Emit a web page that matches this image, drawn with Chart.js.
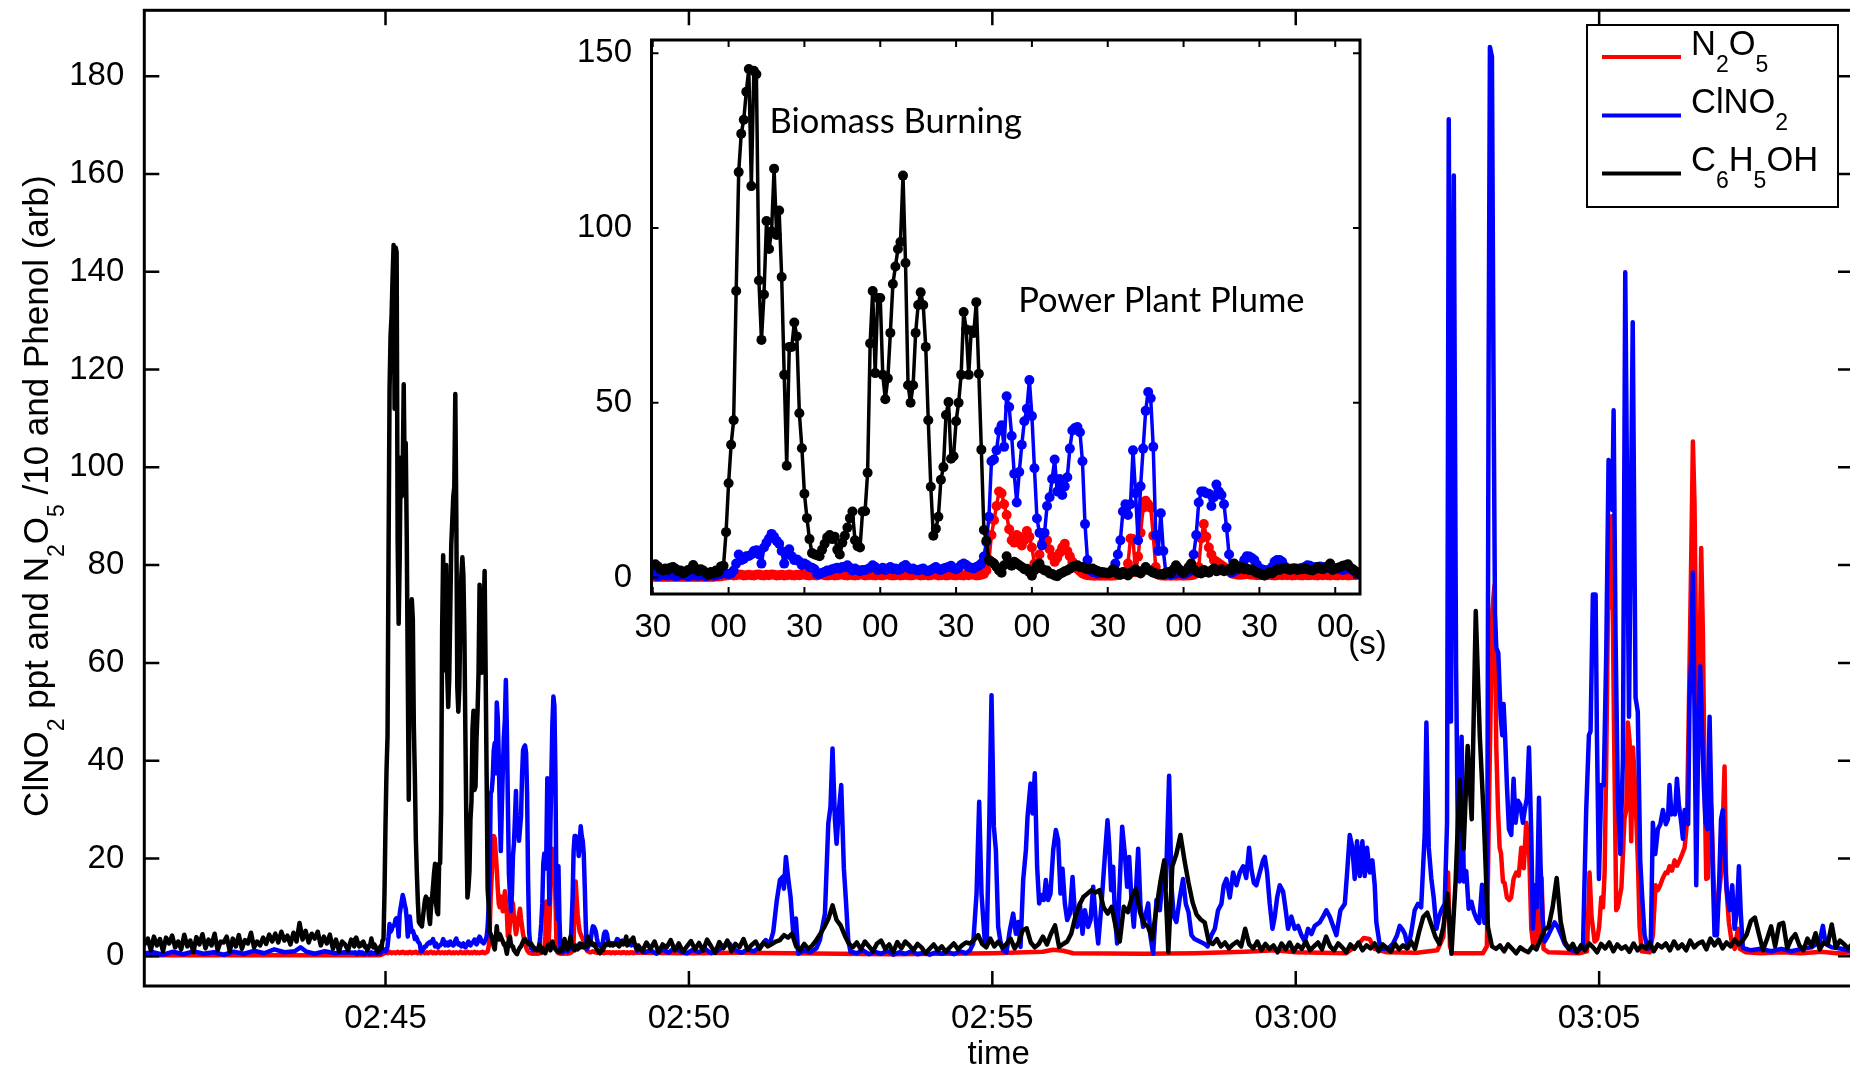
<!DOCTYPE html>
<html><head><meta charset="utf-8">
<script src="https://cdn.jsdelivr.net/npm/chart.js@4.4.1/dist/chart.umd.min.js"></script>
<style>
html,body{margin:0;padding:0;background:#fff;overflow:hidden;width:1850px;height:1070px;}
#wrap{position:relative;width:1850px;height:1070px;overflow:hidden;background:#fff;}
#main{position:absolute;left:0;top:0;}
#inset{position:absolute;left:560px;top:20px;}
</style></head><body>
<div id="wrap"><canvas id="main" width="1854" height="1070"></canvas><canvas id="inset" width="840" height="660"></canvas></div>
<script>
// ---------------- DATA (time = seconds after 02:40:00) ----------------
const mainTimeTicks = [300, 600, 900, 1200, 1500];          // 02:45 ... 03:05
const mainValueTicks = [0, 20, 40, 60, 80, 100, 120, 140, 160, 180];
const insetTimeTicks = [270, 300, 330, 360, 390, 420, 450, 480, 510, 540];
const insetValueTicks = [0, 50, 100, 150];

// Phenol (C6H5OH), 02:41:02 - 02:44:29, every 3 s
const BLACK_A_START = 62, BLACK_A_STEP = 3;
const blackA = [
 2.5,3.6,1.2,4.0,2.2,3.5,1.0,3.8,2.6,4.2,1.8,3.0,1.4,4.4,2.0,3.2,0.8,3.9,2.4,4.5,
 1.6,3.4,2.2,4.6,1.2,3.0,2.8,4.0,1.0,3.6,2.0,4.3,1.5,3.3,2.6,4.8,1.8,3.0,2.2,3.8,
 2.5,4.4,3.0,4.6,2.8,5.0,3.2,4.2,2.4,4.8,3.0,6.8,3.4,5.2,2.8,4.6,3.6,5.0,2.2,4.0,
 2.6,4.4,1.5,3.4,1.0,3.0,2.4,1.2,3.4,2.0
];

// 1 s data 02:44:30 - 02:49:09 (shown in the inset)
const INSET_START = 270;
const blackInset = [
 3.5,3.8,3.2,2.4,2.0,2.6,2.2,2.8,3.0,2.5,
 1.8,2.0,1.2,1.6,2.2,2.4,3.6,2.6,1.8,2.4,
 2.0,1.4,0.8,1.6,1.2,2.0,1.6,3.2,3.4,13.0,
 27.0,38.0,45.0,82.0,116.0,127.0,131.0,139.0,145.5,112.0,
 145.0,144.0,85.0,68.0,81.0,102.0,94.0,99.0,117.0,98.0,
 105.0,86.0,58.0,32.0,66.0,66.0,73.0,69.0,47.0,37.0,
 24.0,17.0,11.0,7.0,6.6,6.4,6.1,8.0,9.7,11.5,
 12.2,11.0,11.7,8.0,6.6,10.0,12.0,14.3,17.0,18.9,
 10.7,9.0,8.6,18.9,19.0,30.0,67.0,82.0,58.5,80.0,
 80.0,58.0,51.0,57.0,70.0,84.0,89.0,94.0,96.0,115.0,
 90.0,55.0,50.0,55.0,70.0,78.0,81.6,78.0,66.0,45.0,
 26.0,12.0,14.0,17.4,28.0,31.6,46.5,50.2,34.0,34.7,
 44.7,50.0,58.0,76.0,71.0,58.0,70.7,70.0,78.8,58.3,
 36.6,13.6,10.5,5.0,4.5,4.0,3.0,2.0,1.4,3.5,
 6.1,4.2,3.4,4.5,4.0,3.5,3.0,2.4,2.5,1.5,
 0.5,2.0,3.5,4.0,2.5,2.0,2.0,1.2,1.0,0.6,
 0.4,1.0,1.4,1.8,2.0,2.5,3.0,3.4,3.5,3.0,
 3.0,2.6,2.4,2.5,2.6,2.2,1.9,1.6,1.4,1.4,
 1.2,1.4,2.4,2.0,1.0,0.8,1.6,1.2,0.6,1.4,
 1.8,2.4,1.6,1.2,2.0,3.0,2.2,1.8,1.4,1.2,
 1.0,1.0,0.8,1.4,1.6,1.2,2.4,3.5,2.6,1.8,
 1.4,2.0,3.0,4.0,2.4,1.8,1.4,1.2,2.2,1.6,
 1.4,2.0,2.6,1.8,2.0,2.4,1.8,2.2,2.4,2.0,
 4.0,2.8,2.6,3.0,2.4,2.6,2.2,2.4,1.8,1.4,
 1.2,0.8,0.6,1.0,1.6,1.2,1.8,2.4,2.2,2.6,
 2.8,2.4,2.2,2.6,2.6,2.2,2.4,2.4,2.6,2.4,
 2.2,2.0,2.4,3.0,2.6,2.4,2.8,3.2,4.0,2.2,
 2.6,2.8,3.0,3.4,3.5,3.8,2.8,2.4,1.8,1.4
];
const blueInset = [
 0.8,0.6,0.4,0.6,0.9,0.7,0.5,0.8,0.6,0.4,
 0.5,0.7,0.9,0.6,0.4,0.5,0.8,0.6,0.5,0.7,
 0.6,0.4,0.6,0.8,0.5,0.6,0.9,1.0,1.4,1.2,
 1.0,1.2,2.0,4.0,6.6,5.0,5.3,6.1,6.2,6.6,
 7.6,7.8,6.6,4.0,8.6,10.0,11.2,12.5,11.7,10.5,
 9.7,7.6,4.0,6.6,8.1,6.1,5.0,5.2,4.6,3.5,
 4.0,3.6,3.0,2.8,2.4,1.0,1.0,1.4,1.6,2.0,
 2.0,2.4,2.6,2.8,2.6,3.0,3.0,3.5,2.8,2.0,
 2.6,2.2,1.8,2.2,2.2,2.4,2.8,3.5,3.0,2.2,
 2.4,2.8,2.2,2.6,3.0,2.4,2.6,2.2,2.4,3.2,
 3.6,2.8,2.4,2.6,2.2,2.0,2.4,2.6,2.0,1.8,
 2.2,2.6,3.0,2.4,2.2,2.6,2.8,3.0,3.4,2.6,
 2.4,2.8,3.6,4.0,3.6,3.0,2.8,2.6,3.0,3.4,
 4.0,6.0,10.2,17.4,33.3,33.8,36.4,42.0,43.6,37.4,
 51.9,48.8,40.5,29.7,21.5,30.2,38.0,44.7,48.3,56.5,
 46.2,31.3,16.9,12.8,9.2,12.8,20.5,23.0,28.2,33.8,
 24.6,28.2,23.6,26.1,28.7,36.9,42.1,42.8,43.1,41.6,
 33.3,15.3,5.0,2.5,1.6,1.5,1.2,1.4,1.6,1.4,
 1.4,1.6,2.0,4.0,6.6,10.7,18.9,21.0,17.9,21.0,
 36.4,24.1,10.7,26.1,36.9,47.7,53.1,51.3,37.4,12.2,
 7.6,18.4,7.6,1.4,1.0,0.8,1.0,1.2,1.4,1.2,
 1.0,1.2,1.6,2.0,6.6,12.2,21.5,24.6,24.6,24.1,
 24.0,20.5,23.0,26.6,24.6,23.6,21.0,14.3,6.6,1.4,
 1.8,2.2,2.4,3.5,5.0,6.1,6.0,5.6,5.0,3.7,
 2.6,2.4,2.2,2.0,2.2,3.0,4.5,5.0,5.0,4.5,
 3.2,2.6,2.5,2.4,2.6,2.5,2.6,2.8,3.0,3.5,
 3.4,3.0,2.8,3.0,3.2,3.0,2.6,2.8,3.0,2.8,
 2.6,2.5,2.4,2.2,2.4,2.6,2.4,2.0,1.5,1.0
];
const redInset = [
 0.2,0.2,0.2,0.2,0.2,0.2,0.2,0.2,0.2,0.2,
 0.2,0.2,0.2,0.2,0.2,0.2,0.2,0.2,0.2,0.2,
 0.2,0.2,0.2,0.2,0.2,0.3,0.3,0.4,0.5,0.6,
 0.7,0.8,0.6,0.7,0.9,0.8,0.6,0.7,0.8,0.7,
 0.6,0.8,0.9,0.7,0.6,0.8,0.7,0.9,0.8,0.6,
 0.7,0.8,0.6,0.7,0.9,0.7,0.6,0.8,0.7,0.8,
 0.9,0.7,0.6,0.8,0.7,0.6,0.8,0.9,0.7,0.6,
 0.7,0.8,0.6,0.7,0.8,0.9,0.7,0.6,0.8,0.7,
 0.6,0.7,0.9,0.8,0.6,0.7,0.8,0.7,0.6,0.8,
 0.7,0.6,0.8,0.9,0.7,0.6,0.7,0.8,0.6,0.7,
 0.8,0.7,0.6,0.7,0.9,0.8,0.6,0.7,0.8,0.6,
 0.7,0.9,0.8,0.6,0.7,0.8,0.6,0.7,0.9,0.7,
 0.6,0.8,0.7,0.6,0.8,0.7,0.9,0.8,0.6,0.7,
 0.8,1.0,2.0,5.0,12.2,16.4,20.5,24.6,24.1,21.0,
 17.9,13.8,10.7,10.0,12.2,11.7,9.2,10.7,13.3,11.7,
 8.6,4.0,4.0,6.6,9.7,11.2,10.7,8.1,6.1,4.5,
 5.6,7.1,8.6,9.7,7.6,6.1,4.5,3.5,2.5,1.8,
 1.2,0.9,0.7,0.6,0.6,0.5,0.6,0.5,0.6,0.5,
 0.6,0.5,0.6,0.6,0.7,0.8,1.0,1.5,4.0,11.2,
 11.0,1.5,6.0,12.8,20.0,22.0,21.0,20.0,12.0,3.0,
 0.8,0.6,0.6,0.5,0.6,0.5,0.6,0.5,0.6,0.6,
 0.5,0.6,0.6,0.7,0.8,1.2,3.0,11.2,15.3,11.7,
 8.6,6.6,5.0,4.5,4.0,3.5,3.0,2.4,1.8,1.2,
 1.0,0.9,0.8,0.8,0.9,1.0,0.9,0.8,0.8,0.7,
 0.7,0.8,0.6,0.7,0.8,0.7,0.6,0.7,0.8,0.7,
 0.8,0.7,0.8,0.6,0.7,0.8,0.7,0.6,0.8,0.7,
 0.7,0.8,0.7,0.6,0.8,0.7,0.8,0.7,0.6,0.8,
 0.7,0.6,0.8,0.7,0.8,0.6,0.7,0.8,0.7,0.8
];

// Phenol 02:49:10 - 03:09:14, every 4 s (one row = one minute)
const BLACK_C_START = 550, BLACK_C_STEP = 4;
const blackC = [
 2.2,1.0,2.8,1.5,3.0,0.8,2.4,1.8,3.3,1.2,2.6,0.9,2.0,3.1,1.4,
 2.7,1.1,3.4,2.0,0.7,2.9,1.6,3.2,1.0,2.5,1.8,3.5,1.3,2.3,3.0,
 1.5,2.8,2.0,2.5,3.0,3.3,4.3,3.8,4.6,2.0,1.2,2.5,1.5,2.2,3.3,
 4.6,6.0,7.7,10.4,7.4,6.3,4.3,2.6,1.8,2.8,1.4,3.0,2.0,1.0,2.6,
 3.2,1.5,2.4,0.8,2.9,1.6,3.0,2.2,1.2,2.5,1.8,0.6,1.5,2.4,1.2,
 2.0,0.9,1.8,2.6,1.4,2.2,2.8,2.6,3.3,4.3,2.5,1.8,3.6,2.0,3.0,
 1.8,2.5,3.6,1.6,2.8,5.3,5.7,2.8,1.8,2.5,4.0,2.4,4.6,6.3,1.9,
 2.5,3.0,4.6,8.0,10.4,12.1,12.8,13.5,13.0,13.5,10.0,8.7,10.1,6.0,3.0,
 10.1,9.0,12.1,13.8,9.0,6.7,6.0,3.5,9.4,15.0,19.6,0.8,18.4,20.9,24.8,
 19.6,15.0,11.0,8.5,7.5,6.9,3.0,2.5,3.5,2.0,2.8,1.6,2.4,3.0,2.0,
 5.6,2.4,1.6,3.0,1.2,2.5,1.5,2.2,0.8,2.6,1.4,2.8,1.0,2.3,1.5,
 3.0,1.2,2.0,2.8,1.4,4.0,2.0,1.2,2.6,1.8,0.8,2.4,1.5,2.8,1.2,
 2.2,1.6,2.6,1.0,2.4,1.7,0.9,2.6,1.4,2.2,1.6,3.0,1.5,5.0,8.0,
 8.9,6.5,4.0,2.5,6.0,12.8,0.5,15.0,36.0,22.0,43.0,28.0,70.6,45.0,28.0,
 6.0,2.0,1.5,2.2,1.0,2.4,1.5,0.6,1.8,1.2,0.8,2.0,1.4,3.5,5.4,
 6.0,10.0,16.0,7.0,3.0,1.5,2.5,0.8,2.2,1.2,2.6,1.8,0.8,2.5,1.6,
 2.8,1.0,2.4,1.5,2.0,0.9,2.6,1.2,2.2,1.6,2.8,1.0,2.4,1.8,2.6,
 1.2,3.0,1.6,2.4,1.2,3.2,1.8,2.6,3.0,1.4,3.6,2.2,3.4,1.6,2.8,
 2.0,3.4,2.4,3.2,4.5,7.2,7.9,4.5,1.2,3.5,6.1,2.0,6.5,6.8,1.6,
 3.5,4.5,2.2,1.2,3.6,2.0,4.7,1.4,2.8,2.4,6.5,1.8,3.2,2.5,1.6,
 2.4,1.8
];

// ClNO2 and N2O5 outside the inset window: [seconds, value]
const blueA = [[60,0.5],[70,0.8],[80,0.3],[90,0.9],[100,0.4],[110,1.0],[120,0.5],[130,0.8],[140,0.3],[150,0.9],[160,0.5],[170,1.1],[180,0.6],[190,1.4],[200,0.8],[210,1.0],[216,1.8],[222,0.9],[230,0.5],[240,1.0],[250,0.6],[260,0.8],[269,0.7]];
const redA = [[60,0.2],[269,0.2]];
const blueC = [
 [550,1.6],[556,0.8],[562,1.2],[568,0.5],[574,1.4],[580,0.7],[586,1.8],[592,0.9],[598,0.6],[604,1.3],[610,0.8],[616,1.5],[622,0.6],[628,1.1],[634,1.9],[640,2.6],[646,1.2],[652,0.7],[658,1.4],[664,1.0],[670,1.8],[676,3.3],[680,2.5],
 [683.4,5],[686.7,11.1],[690,15.6],[692.6,16.2],[693.9,13.8],[695.9,20.3],[698.2,15.9],[700.5,12.1],[703.2,4.6],[705.8,7.7],[708.1,0.5],[714,1.2],[720,0.8],[726,1.6],
 [729.5,3.3],[734.5,8.7],[737.8,27.1],[740,30.6],[742,42.5],[744.4,27.8],[746,23],[748,29.2],[750.6,35],[751.9,26.5],[753.2,17.9],[755.2,11.5],[757.5,3.3],[759.8,0.9],
 [766,0.6],[772,1.2],[778,0.4],[784,0.9],[790,0.5],[796,1.1],[802,0.3],[808,0.8],[814,0.5],[820,1.0],[826,0.4],[832,0.7],[838,0.3],[844,0.8],[850,0.5],[856,0.9],[862,0.4],[868,1.0],[874,0.6],[878,1.2],
 [881.1,2.6],[884.4,12.8],[887,31.6],[889.3,12.8],[892.6,2.9],[894.5,3.2],[896.9,26.5],[899.2,53.4],[901.5,26.5],[903.5,21.7],[905.8,6],[908.1,2.9],[910.7,1.2],[914,0.8],
 [917.3,5.3],[920.6,8.7],[923.3,4.6],[925.6,7],[927.9,1.9],[930.5,15.6],[933.2,21.7],[934.8,28.5],[937.8,35.3],[939.7,29.2],[942,37.4],[944.3,18.3],[946.3,10.8],[948.6,12.5],[950.9,11.5],[952.9,15.6],[955.2,11.5],[957.5,12.8],[960.2,21.7],[962.8,25.8],[965.1,23.7],[967.4,12.8],[969.4,17.9],[971.7,10.8],[974,7.4],[976.7,8.7],[979.3,16.2],[981.6,8.7],[983.9,6],[986.5,10.8],[989.2,4.6],[991.5,9.4],[994.8,6],[997.1,7.4],[999.7,14.2],[1002.3,7.4],[1004.7,2.6],
 [1008,10.8],[1011.2,20.3],[1013.9,27.8],[1015.5,23],[1017.5,13.5],[1019.5,18.3],[1021.1,8.7],[1023.4,2.6],[1026.1,15.6],[1028.4,26.5],[1031,21],[1033.3,14.2],[1035.3,20.3],[1037.6,11.5],[1039.9,6],[1041.9,12.8],[1044.2,22],[1046.5,10.1],[1049.1,6],[1051.8,8.7],[1054.1,10.8],[1056.4,4],[1059,0.5],
 [1062.3,11.5],[1065.6,9.4],[1068.9,17.1],[1071.5,14],[1074.8,36.9],[1077.1,14.5],[1079.4,8.1],[1082,7],[1085.4,12],[1088.6,15.8],[1091.3,10.7],[1094,9],[1096.9,4.3],[1100,3.5],[1105,3],[1110,2.5],[1113,2],
 [1116.7,4.3],[1120,5.6],[1123.2,9.4],[1126.5,10.7],[1128.8,14.5],[1131.5,15.8],[1134.8,12],[1138.1,17.1],[1141.4,14.5],[1144.7,17.1],[1148,18.4],[1151,16],[1153.9,22.2],[1156.2,17.7],[1158.6,15],[1161.1,14.5],[1164.4,17.1],[1167.7,19.6],[1169.4,20.3],[1171.7,17.1],[1174.3,10.7],[1177,5.6],[1179.3,8.1],[1181.6,12],[1184.2,14.5],[1187.5,13.2],[1190.1,9.4],[1192.4,5.6],[1195.7,8.1],[1199,5.6],
 [1202.3,6.2],[1205.6,4.3],[1208.9,3],[1212.2,5.6],[1215.5,4.5],[1218.8,6.2],[1223.7,6.9],[1227,8.1],[1230.3,9.4],[1233.6,8.1],[1236.9,6.2],[1240.2,4.3],[1244.2,9.4],[1248.5,10.7],[1250.8,17.1],[1253.4,24.8],[1256,22.2],[1258.3,15.8],[1260.6,23.5],[1263.3,16.4],[1265.9,23.5],[1268.2,16.4],[1270.5,22.2],[1273.2,17.1],[1275.8,19.6],[1278.1,14.5],[1279.7,6.9],[1283,2.4],[1286.3,1.5],[1291,1.5],[1296,2.5],
 [1300.2,4.3],[1302.8,6.2],[1305.5,5.5],[1308,4.5],[1311.1,1.7],[1314.3,5],[1317.6,9.4],[1320.9,10.7],[1324,10],[1327.5,24.8],[1329.2,47.8],[1331.5,22.2],[1334.1,15.8],[1336.4,12],[1339.1,5.6],[1341.7,8.1],[1344,9.4],[1347.3,10.7],[1349.6,27.3],[1351.3,171.2],[1353.5,48],[1356.3,159.7],[1358.5,60],[1360.5,20],
 [1362,15.3],[1364,44.9],[1366.2,15.3],[1368.6,17.4],[1371,9.7],[1373.8,11.1],[1376.2,9],[1379,7.5],[1381.4,6.8],[1384.2,14.6],[1386.6,6.8],[1389.4,16.7],[1390.7,120],[1392,186],[1394,184],[1395.5,120],[1397,70],[1398.3,63.1],[1400.3,62],[1402.6,49],[1404.2,45.2],[1405.5,51.6],[1407,45],[1408.8,35],[1410.8,26],[1413.1,24.8],[1415.4,36.3],[1417.4,27.3],[1419.7,31.8],[1422,31],[1424.6,27.3],[1426.5,30],[1428.6,32.4],[1430.6,42.7],[1432.9,24.8],[1434.5,5.6],[1436.8,14.5],[1438.5,10],[1440.5,32.4],[1442.1,18.4],[1444,8],[1446.1,3],[1449,4],[1452.7,5.6],[1456,6.9],[1459,6],[1462.5,4.3],[1466,2.5],[1470,1.5],[1476,1],[1484,1.7],
 [1487.2,29.9],[1489.9,45.2],[1491.5,46],[1493.8,74],[1496.5,74],[1497.8,45.2],[1499.8,15.8],[1502.1,35],[1504.5,35],[1507,61.8],[1509.3,101.5],[1511,101],[1513,91.3],[1514.3,111.7],[1516.2,65.7],[1518.5,32.4],[1520.9,20.9],[1523.5,40.1],[1525.8,139.9],[1529.5,49],[1533.2,129.7],[1536,52.9],[1538.2,50],[1540.6,19.6],[1542.6,12],[1544.9,4.3],[1548,1.5],[1551,2],
 [1553.1,27.3],[1555.5,20.9],[1558.1,26],[1560.5,27],[1563,29.9],[1566,27],[1568,28],[1569.6,35],[1571.5,29],[1573.5,30],[1575,29],[1576.9,36.3],[1578.8,31],[1581.2,27.3],[1582.8,24],[1584.5,29.9],[1586.5,28],[1588,27],[1589.4,52.9],[1591,60.6],[1592.7,78.5],[1594.3,50],[1596,14.5],[1598,45],[1599.9,59.3],[1602,45],[1603.5,35],[1605.2,27.3],[1607,26],[1609.2,49],[1611,30],[1612.5,15.8],[1614.1,4.3],[1616.5,4.3],[1618.5,14],[1620.5,28],[1622.3,29.9],[1624,20.9],[1626.3,13.2],[1628.9,9.4],[1631.6,14.5],[1633.9,5.6],[1636.2,9.4],[1638.2,18.4],[1640,9],[1642.1,1.7],
 [1650,1.2],[1660,1.5],[1670,1],[1680,1.5],[1690,1],[1700,1.5],[1710,1.8],[1718,3],[1721.2,6.2],[1724,2.5],[1730,1.8],[1740,1.5],[1750,1],[1754,1.2]
];
const redC = [
 [550,0.7],[600,0.6],[650,0.7],[700,0.6],[750,0.5],[800,0.4],[850,0.5],[900,0.6],[950,0.9],[960,1.3],[970,1.1],[980,0.6],[1050,0.5],[1100,0.6],[1150,0.9],[1180,1.2],[1200,0.8],[1250,0.6],[1262,2.5],[1267,3.7],[1273,3.5],[1278,1.5],[1290,0.8],[1320,0.7],[1340,1.2],[1346,4],[1349,14],[1350.6,17.1],[1352.5,2],[1355,0.6],[1385,0.6],[1389,2],
 [1391.8,40.1],[1394.4,70.8],[1396.5,75.9],[1398.3,42.7],[1400,29.9],[1401.6,22.2],[1403,21],[1404.9,15.2],[1406.5,15],[1408.8,12],[1411,11.5],[1413,12],[1415.4,15.8],[1418,17.1],[1420.5,16.5],[1423,22.2],[1425.5,18],[1427.9,27.3],[1429.5,25],[1431,20],[1432.9,5.6],[1435,2],[1437,3],[1439.5,9.4],[1441.5,4],[1443.1,16],[1445,1.5],[1450,0.8],[1480,0.6],[1488,1],
 [1490.5,17.1],[1492.5,8],[1495.5,3],[1498,3.5],[1500,6],[1502.1,12],[1503.8,10],[1505.4,17.1],[1507,40],[1508.7,70.8],[1510.5,72],[1512.6,90],[1514.5,50],[1516.9,9.4],[1518.5,10],[1520.2,12],[1522,14],[1523.5,20.9],[1525,28],[1526.8,29.9],[1528.4,47.8],[1530.1,44],[1531.7,23.5],[1533.4,42.7],[1535.5,35],[1538.3,19.6],[1540,6],[1542,1],[1550,0.8],
 [1553.1,4.3],[1555.8,14.5],[1558,13.5],[1560.4,14.5],[1563,16],[1565.7,17.1],[1567.5,17],[1569.6,18.4],[1572,17.5],[1574.6,19.6],[1577,18.5],[1579.5,19.6],[1582.1,20.9],[1584.5,22.2],[1586.8,27.3],[1588.7,50.4],[1591,81],[1592.7,105.3],[1594.3,92.5],[1596,60],[1597.6,40.1],[1599.3,59.3],[1600.9,83.5],[1602.6,65.7],[1604.2,36.3],[1605.9,15.8],[1607.5,16],[1609.2,33.7],[1611,30],[1613.1,15.8],[1615.5,8],[1618,12],[1620.7,17.1],[1622.3,27.3],[1624,38.8],[1625.6,14.5],[1628.3,6.9],[1631,3],[1634,1.5],[1637.2,5.6],[1639,1.5],[1645,0.8],
 [1660,0.6],[1680,0.8],[1700,0.6],[1720,0.9],[1735,0.6],[1750,0.8],[1754,0.7]
];

// Series names / legend labels ([text, isSubscript])
const seriesNames = ['N2O5', 'ClNO2', 'C6H5OH'];
const legendLabels = [
  [['N',0],['2',1],['O',0],['5',1]],
  [['ClNO',0],['2',1]],
  [['C',0],['6',1],['H',0],['5',1],['OH',0]]
];
const seriesColors = ['#ff0000', '#0000ff', '#000000'];
const yTitleParts = [['ClNO',0],['2',1],[' ppt and N',0],['2',1],['O',0],['5',1],[' /10 and Phenol (arb)',0]];
const xTitle = 'time';
const annotations = [
  {text: 'Biomass Burning', t: 316.2, v: 127.1},
  {text: 'Power Plant Plume', t: 414.6, v: 76.1}
];

// ---------------- BUILD ----------------
const grid = (start, step, vals) => vals.map((v, i) => ({x: start + step * i, y: v}));
const pairs = arr => arr.map(([t, v]) => ({x: t, y: v}));

const redMain = [...pairs(redA), ...grid(INSET_START, 1, redInset), ...pairs(redC)];
const blueMain = [...pairs(blueA), ...grid(INSET_START, 1, blueInset), ...pairs(blueC)];
const blackMain = [...grid(BLACK_A_START, BLACK_A_STEP, blackA), ...grid(INSET_START, 1, blackInset), ...grid(BLACK_C_START, BLACK_C_STEP, blackC)];

const FAMILY = '"Liberation Sans", Arial, Helvetica, sans-serif';
const pad2 = n => String(n).padStart(2, '0');
const clock = s => { const m = Math.round(s / 60) + 40; return pad2(2 + Math.floor(m / 60)) + ':' + pad2(m % 60); };

function richWidth(ctx, parts, size, sub) {
  let w = 0;
  for (const [t, s] of parts) { ctx.font = (s ? sub : size) + 'px ' + FAMILY; w += ctx.measureText(t).width; }
  return w;
}
function drawRich(ctx, parts, x, y, size, sub, dy) {
  let cx = x;
  ctx.textBaseline = 'alphabetic'; ctx.textAlign = 'left';
  for (const [t, s] of parts) {
    ctx.font = (s ? sub : size) + 'px ' + FAMILY;
    ctx.fillText(t, cx, y + (s ? dy : 0));
    cx += ctx.measureText(t).width;
  }
}

function framePlugin(id, xt, yt, len, lw, tlw) {
  return {
    id,
    afterDatasetsDraw(chart) {
      const {ctx, chartArea: a, scales: {x, y}} = chart;
      ctx.save();
      ctx.strokeStyle = '#000';
      ctx.lineWidth = tlw;
      ctx.beginPath();
      for (const v of xt) {
        const p = x.getPixelForValue(v);
        ctx.moveTo(p, a.bottom); ctx.lineTo(p, a.bottom - len);
        ctx.moveTo(p, a.top); ctx.lineTo(p, a.top + len);
      }
      for (const v of yt) {
        const p = y.getPixelForValue(v);
        ctx.moveTo(a.left, p); ctx.lineTo(a.left + len, p);
        ctx.moveTo(a.right, p); ctx.lineTo(a.right - len, p);
      }
      ctx.stroke();
      ctx.lineWidth = lw;
      ctx.strokeRect(a.left, a.top, a.right - a.left, a.bottom - a.top);
      ctx.restore();
    }
  };
}

const mainDecor = {
  id: 'mainDecor',
  afterDraw(chart) {
    const {ctx, chartArea: a} = chart;
    // y axis title with subscripts
    ctx.save();
    ctx.fillStyle = '#000';
    ctx.translate(48, (a.top + a.bottom) / 2 - 2);
    ctx.rotate(-Math.PI / 2);
    const w = richWidth(ctx, yTitleParts, 35, 23);
    drawRich(ctx, yTitleParts, -w / 2, 0, 35, 23, 16);
    ctx.restore();
    // legend
    const bx = a.right - 266, by = a.top + 14.7, bw = 251, bh = 182;
    ctx.save();
    ctx.fillStyle = '#fff';
    ctx.fillRect(bx, by, bw, bh);
    ctx.strokeStyle = '#000'; ctx.lineWidth = 2;
    ctx.strokeRect(bx, by, bw, bh);
    const rows = [32, 90.5, 148.5];
    legendLabels.forEach((parts, i) => {
      const ly = by + rows[i];
      ctx.strokeStyle = seriesColors[i]; ctx.lineWidth = 4;
      ctx.beginPath(); ctx.moveTo(bx + 15, ly); ctx.lineTo(bx + 94, ly); ctx.stroke();
      ctx.fillStyle = '#000';
      drawRich(ctx, parts, bx + 104, ly - 2.5, 34.5, 23, 17);
    });
    ctx.restore();
  }
};

const order = {0: 2, 1: 1, 2: 0};
function mkSets(datas, inset) {
  return datas.map((d, i) => ({
    label: seriesNames[i], data: d, order: order[i],
    borderColor: seriesColors[i], backgroundColor: seriesColors[i],
    borderWidth: inset ? 3.5 : 4.5, borderJoinStyle: 'round', borderCapStyle: 'round',
    pointRadius: inset ? 5 : 0, pointBorderWidth: 0, pointHoverRadius: 0,
    pointBackgroundColor: seriesColors[i], tension: 0, fill: false
  }));
}

const tickFont = {family: FAMILY, size: 33};
const noPadY = s => { s.paddingTop = 0; s.paddingBottom = 0; };
const noPadX = s => { s.paddingLeft = 0; s.paddingRight = 0; };

new Chart(document.getElementById('main'), {
  type: 'line',
  data: {datasets: mkSets([redMain, blueMain, blackMain], false)},
  options: {
    responsive: false, animation: false, devicePixelRatio: 1, parsing: false,
    layout: {padding: {top: 10.3, right: 1, bottom: 0, left: 0}},
    plugins: {legend: {display: false}, tooltip: {enabled: false}},
    scales: {
      x: {
        type: 'linear', min: 61.5, max: 1751,
        grid: {display: false}, border: {display: false},
        afterFit: s => { s.height = 84; noPadX(s); },
        afterBuildTicks: s => { s.ticks = mainTimeTicks.map(v => ({value: v})); },
        ticks: {font: tickFont, color: '#000', padding: 5, maxRotation: 0, autoSkip: false, callback: v => clock(v)},
        title: {display: true, text: xTitle, font: tickFont, color: '#000', padding: {top: 0, bottom: -5}}
      },
      y: {
        type: 'linear', min: -6.1, max: 193.5,
        grid: {display: false}, border: {display: false},
        afterFit: s => { s.width = 144.3; noPadY(s); },
        afterBuildTicks: s => { s.ticks = mainValueTicks.map(v => ({value: v})); },
        ticks: {font: tickFont, color: '#000', padding: 12, callback: v => String(v)}
      }
    }
  },
  plugins: [framePlugin('mainFrame', mainTimeTicks, mainValueTicks, 15, 3, 2.5), mainDecor]
});

const insetBg = {
  id: 'insetBg',
  beforeDatasetsDraw(chart) {
    const {ctx, chartArea: a} = chart;
    ctx.save(); ctx.fillStyle = '#fff';
    ctx.fillRect(a.left, a.top, a.right - a.left, a.bottom - a.top);
    ctx.restore();
  }
};
const insetDecor = {
  id: 'insetDecor',
  afterDraw(chart) {
    const {ctx, chartArea: a, scales: {x, y}} = chart;
    ctx.save();
    ctx.fillStyle = '#000';
    ctx.font = '34.5px Lato, "Open Sans", sans-serif';
    ctx.textBaseline = 'alphabetic'; ctx.textAlign = 'left';
    for (const an of annotations) ctx.fillText(an.text, x.getPixelForValue(an.t), y.getPixelForValue(an.v));
    ctx.font = '33px ' + FAMILY;
    ctx.textAlign = 'center'; ctx.textBaseline = 'middle';
    ctx.fillText('(s)', a.right + 7.5, a.bottom + 51);
    ctx.restore();
  }
};

new Chart(document.getElementById('inset'), {
  type: 'line',
  data: {datasets: mkSets([grid(INSET_START, 1, redInset), grid(INSET_START, 1, blueInset), grid(INSET_START, 1, blackInset)], true)},
  options: {
    responsive: false, animation: false, devicePixelRatio: 1, parsing: false,
    layout: {padding: {top: 20, right: 40, bottom: 0, left: 0}},
    plugins: {legend: {display: false}, tooltip: {enabled: false}},
    scales: {
      x: {
        type: 'linear', min: 269.5, max: 549.8,
        grid: {display: false}, border: {display: false},
        afterFit: s => { s.height = 86; noPadX(s); },
        afterBuildTicks: s => { s.ticks = insetTimeTicks.map(v => ({value: v})); },
        ticks: {font: tickFont, color: '#000', padding: 6, maxRotation: 0, autoSkip: false, callback: v => pad2(v % 60)}
      },
      y: {
        type: 'linear', min: -4.7, max: 153.8,
        grid: {display: false}, border: {display: false},
        afterFit: s => { s.width = 91.5; noPadY(s); },
        afterBuildTicks: s => { s.ticks = insetValueTicks.map(v => ({value: v})); },
        ticks: {font: tickFont, color: '#000', padding: 11.5, callback: v => String(v)}
      }
    }
  },
  plugins: [insetBg, framePlugin('insetFrame', insetTimeTicks, insetValueTicks, 7, 3, 2), insetDecor]
});
</script></body></html>
